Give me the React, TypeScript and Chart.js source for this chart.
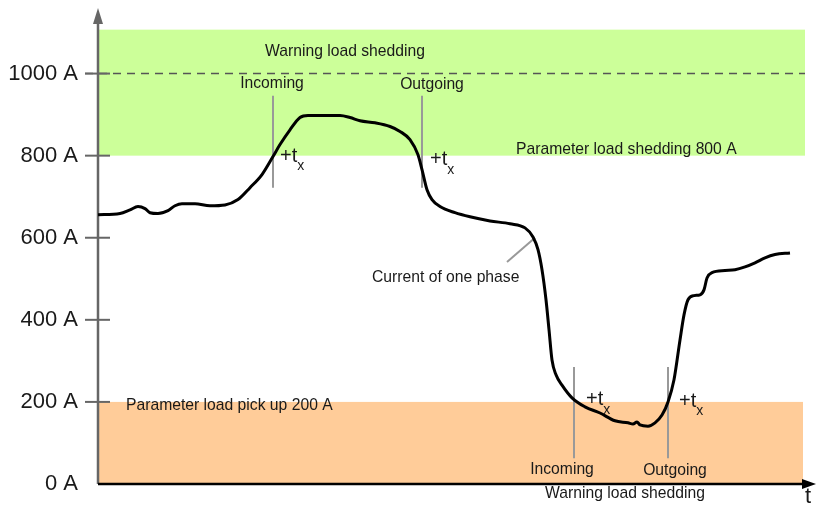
import React, { useEffect, useRef } from "react";
import { Chart, registerables } from "chart.js";

Chart.register(...registerables);

// time (arbitrary units) and phase current (A)
const timeX = [0, 22, 32, 40, 47, 52, 60, 70, 77, 84, 97, 112, 127, 140, 152, 164, 175, 182, 192, 202, 210, 222, 242, 252, 262, 277, 292, 302, 312, 320, 324, 329, 334, 342, 357, 372, 392, 412, 427, 435, 440, 444, 448, 451, 454, 458, 464, 474, 487, 502, 517, 530, 535, 539, 542, 550, 557, 564, 570, 576, 582, 586, 590, 596, 602, 606, 609, 614, 627, 637, 647, 657, 667, 677, 692];
const currentA = [656, 659, 668, 676, 671, 661, 659, 666, 678, 683, 683, 678, 680, 693, 722, 754, 798, 827, 863, 893, 898, 898, 898, 893, 885, 880, 871, 859, 839, 802, 766, 717, 693, 676, 661, 651, 641, 634, 624, 602, 571, 522, 449, 376, 302, 266, 241, 210, 188, 173, 154, 149, 146, 151, 144, 141, 149, 168, 200, 254, 351, 412, 449, 459, 461, 473, 502, 515, 520, 522, 529, 539, 551, 559, 563];

const yTicks = [0, 200, 400, 600, 800, 1000];
const tickLabels = ["0 A", "200 A", "400 A", "600 A", "800 A", "1000 A"];

// bands: [tStart, tEnd, aLow, aHigh]
const greenBand = [0, 707, 800, 1107];
const orangeBand = [0, 705, 0, 200];
const warningLevel = 1000;

// texts: [label, t, A, align]
const texts: [string, number, number, CanvasTextAlign][] = [
  ["Warning load shedding", 247, 1054, "center"],
  ["Incoming", 174, 976, "center"],
  ["Outgoing", 334, 973, "center"],
  ["Parameter load shedding 800 A", 418, 815, "left"],
  ["Current of one phase", 274, 502, "left"],
  ["Parameter load pick up 200 A", 28, 190, "left"],
  ["Incoming", 464, 34, "center"],
  ["Outgoing", 577, 32, "center"],
  ["Warning load shedding", 527, -24, "center"],
];
// +t_x labels: [t, A]
const txLabels = [[182, 798], [332, 790], [488, 205], [581, 202]];
// vertical markers: [t, aLow, aHigh]
const markers = [[175, 722, 946], [324, 722, 946], [476, 63, 285], [570, 63, 285]];
const pointer = [[409, 541], [437, 600]];

const FONT = "Arial, 'Liberation Sans', sans-serif";

const overlay = {
  id: "overlay",
  beforeDatasetsDraw(chart: any) {
    const { ctx, scales } = chart;
    const x = scales.x, y = scales.y;
    ctx.save();
    const band = (b: number[], color: string) => {
      const x0 = x.getPixelForValue(b[0]), x1 = x.getPixelForValue(b[1]);
      const y0 = y.getPixelForValue(b[3]), y1 = y.getPixelForValue(b[2]);
      ctx.fillStyle = color;
      ctx.fillRect(x0, y0, x1 - x0, y1 - y0);
    };
    band(greenBand, "#ccff99");
    band(orangeBand, "#ffcc99");
    // dashed warning line
    ctx.strokeStyle = "#555";
    ctx.lineWidth = 1.5;
    ctx.setLineDash([8, 6]);
    ctx.beginPath();
    const yw = y.getPixelForValue(warningLevel);
    ctx.moveTo(x.left - 13, yw);
    ctx.lineTo(x.getPixelForValue(greenBand[1]), yw);
    ctx.stroke();
    ctx.setLineDash([]);
    // markers
    ctx.strokeStyle = "#999";
    ctx.lineWidth = 2;
    for (const m of markers) {
      const px = x.getPixelForValue(m[0]);
      ctx.beginPath();
      ctx.moveTo(px, y.getPixelForValue(m[1]));
      ctx.lineTo(px, y.getPixelForValue(m[2]));
      ctx.stroke();
    }
    // pointer
    ctx.beginPath();
    ctx.moveTo(x.getPixelForValue(pointer[0][0]), y.getPixelForValue(pointer[0][1]));
    ctx.lineTo(x.getPixelForValue(pointer[1][0]), y.getPixelForValue(pointer[1][1]));
    ctx.stroke();
    // y axis line with arrow
    const ax = x.left;
    ctx.strokeStyle = "#666";
    ctx.fillStyle = "#666";
    ctx.lineWidth = 2.5;
    ctx.beginPath();
    ctx.moveTo(ax, y.bottom);
    ctx.lineTo(ax, 20);
    ctx.stroke();
    ctx.beginPath();
    ctx.moveTo(ax, 8);
    ctx.lineTo(ax - 5, 24);
    ctx.lineTo(ax + 5, 24);
    ctx.closePath();
    ctx.fill();
    // tick marks
    ctx.lineWidth = 2;
    for (const v of yTicks.slice(1)) {
      const py = y.getPixelForValue(v);
      ctx.beginPath();
      ctx.moveTo(ax - 13, py);
      ctx.lineTo(ax + 12, py);
      ctx.stroke();
    }
    // x axis
    ctx.strokeStyle = "#000";
    ctx.fillStyle = "#000";
    ctx.lineWidth = 2.5;
    ctx.beginPath();
    ctx.moveTo(ax, y.bottom);
    ctx.lineTo(x.right - 4, y.bottom);
    ctx.stroke();
    ctx.beginPath();
    ctx.moveTo(x.right + 4, y.bottom);
    ctx.lineTo(x.right - 10, y.bottom - 5);
    ctx.lineTo(x.right - 10, y.bottom + 5);
    ctx.closePath();
    ctx.fill();
    ctx.restore();
  },
  afterDatasetsDraw(chart: any) {
    const { ctx, scales } = chart;
    const x = scales.x, y = scales.y;
    ctx.save();
    ctx.fillStyle = "#1a1a1a";
    ctx.textBaseline = "middle";
    ctx.font = `15.7px ${FONT}`;
    for (const [s, t, a, al] of texts) {
      ctx.textAlign = al;
      ctx.fillText(s, x.getPixelForValue(t), y.getPixelForValue(a));
    }
    for (const [t, a] of txLabels) {
      const px = x.getPixelForValue(t), py = y.getPixelForValue(a);
      ctx.textAlign = "left";
      ctx.font = `20px ${FONT}`;
      ctx.fillText("+t", px, py);
      const w = ctx.measureText("+t").width;
      ctx.font = `14px ${FONT}`;
      ctx.fillText("x", px + w, py + 10);
    }
    ctx.font = `22px ${FONT}`;
    ctx.textAlign = "center";
    ctx.fillText("t", x.getPixelForValue(710), y.getPixelForValue(-32));
    ctx.restore();
  },
};

export default function App() {
  const ref = useRef<HTMLCanvasElement>(null);
  useEffect(() => {
    const chart = new Chart(ref.current!, {
      type: "line",
      data: {
        datasets: [
          {
            data: timeX.map((t, i) => ({ x: t, y: currentA[i] })),
            borderColor: "#000",
            borderWidth: 3,
            pointRadius: 0,
            tension: 0.4,
            cubicInterpolationMode: "monotone",
            fill: false,
          },
        ],
      },
      options: {
        responsive: false,
        animation: false,
        layout: { padding: { top: 12, right: 4, bottom: 22, left: 0 } },
        plugins: { legend: { display: false }, tooltip: { enabled: false } },
        scales: {
          x: { type: "linear", min: 0, max: 714, display: false },
          y: {
            min: 0,
            max: 1150,
            afterFit: (s: any) => {
              s.width = 98;
              s.paddingTop = 0;
              s.paddingBottom = 0;
            },
            afterBuildTicks: (s: any) => { s.ticks = yTicks.map((v) => ({ value: v })); },
            grid: { display: false, drawTicks: false },
            border: { display: false },
            ticks: {
              padding: 20,
              color: "#1a1a1a",
              font: { size: 22, family: FONT },
              callback: (v: any) => {
                const i = yTicks.indexOf(Number(v));
                return i >= 0 ? tickLabels[i] : "";
              },
            },
          },
        },
      },
      plugins: [overlay],
    });
    return () => chart.destroy();
  }, []);
  return (
    <div style={{ position: "fixed", left: 0, top: 0, width: 816, height: 506, background: "#fff" }}>
      <canvas ref={ref} width={816} height={506} />
    </div>
  );
}
